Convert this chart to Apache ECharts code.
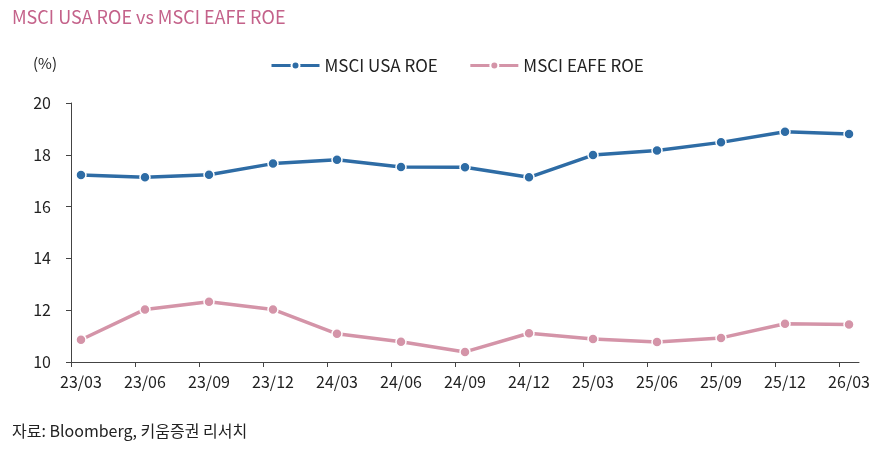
<!DOCTYPE html>
<html>
<head>
<meta charset="utf-8">
<script src="https://cdn.jsdelivr.net/npm/echarts@6/dist/echarts.min.js"></script>
<style>html,body{margin:0;padding:0;background:#fff}#c{width:887px;height:456px}</style>
</head>
<body>
<div id="c"></div>
<script>
var categories = ['23/03','23/06','23/09','23/12','24/03','24/06','24/09','24/12','25/03','25/06','25/09','25/12','26/03'];
var usaROE = [17.22,17.13,17.23,17.66,17.81,17.53,17.52,17.13,17.99,18.17,18.48,18.89,18.80];
var eafeROE = [10.86,12.03,12.33,12.03,11.09,10.78,10.39,11.11,10.89,10.77,10.93,11.48,11.45];
var yTicks = [10,12,14,16,18,20];

var FONT = '"Noto Sans CJK KR", "Noto Sans", sans-serif';
var off = 0.156;
var tickVals = categories.map(function(_, i){ return i - off; });
var labelVals = categories.map(function(_, i){ return i; });
function pairs(arr){ return arr.map(function(v,i){ return [i, v]; }); }

var chart = echarts.init(document.getElementById('c'));
chart.setOption({
  animation: false,
  textStyle: { fontFamily: FONT },
  title: [
    { text: 'MSCI USA ROE vs MSCI EAFE ROE', left: 12, top: 8, padding: 0,
      textStyle: { color: '#c4628a', fontSize: 18, fontWeight: 'normal', fontFamily: FONT } },
    { text: '(%)', left: 33, top: 56, padding: 0,
      textStyle: { color: '#222', fontSize: 15, fontWeight: 'normal', fontFamily: FONT } },
    { text: '자료: Bloomberg, 키움증권 리서치', left: 12, top: 423, padding: 0,
      textStyle: { color: '#222', fontSize: 16, fontWeight: 'normal', fontFamily: FONT } }
  ],
  legend: {
    top: 57, left: 270, padding: 0, itemWidth: 48, itemHeight: 10, itemGap: 31,
    textStyle: { color: '#222', fontSize: 17, fontFamily: FONT },
    lineStyle: { width: 3 },
    data: ['MSCI USA ROE', 'MSCI EAFE ROE']
  },
  grid: { left: 71, right: 28, top: 103, bottom: 94, containLabel: false },
  xAxis: {
    type: 'value', min: -off, max: categories.length - 1 + off,
    axisLine: { show: true, onZero: false, lineStyle: { color: '#444', width: 1 } },
    axisTick: { show: true, length: 5, lineStyle: { color: '#444' }, customValues: tickVals },
    axisLabel: { color: '#222', fontSize: 16, margin: 12, customValues: labelVals,
      formatter: function(v){ return categories[Math.round(v)]; } },
    splitLine: { show: false }
  },
  yAxis: {
    type: 'value', min: 10, max: 20, interval: 2,
    axisLine: { show: true, onZero: false, lineStyle: { color: '#444', width: 1 } },
    axisTick: { show: true, length: 5, inside: false, lineStyle: { color: '#444' } },
    axisLabel: { color: '#222', fontSize: 16, margin: 20 },
    splitLine: { show: false }
  },
  series: [
    { name: 'MSCI USA ROE', type: 'line', data: pairs(usaROE),
      symbol: 'circle', symbolSize: 10,
      lineStyle: { color: '#2e6ca5', width: 3.5 },
      itemStyle: { color: '#2e6ca5', borderColor: '#fff', borderWidth: 1.5 } },
    { name: 'MSCI EAFE ROE', type: 'line', data: pairs(eafeROE),
      symbol: 'circle', symbolSize: 10,
      lineStyle: { color: '#d494a8', width: 3.5 },
      itemStyle: { color: '#d494a8', borderColor: '#fff', borderWidth: 1.5 } }
  ]
});
</script>
</body>
</html>
